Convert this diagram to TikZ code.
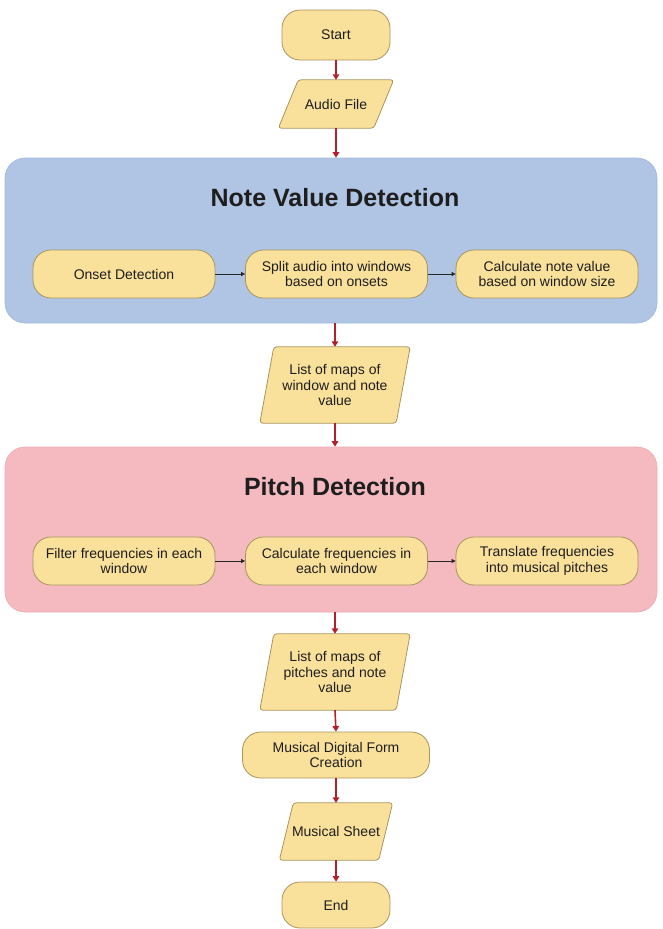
\documentclass[tikz,border=0pt]{standalone}
\usepackage{fontspec}
\setmainfont{Liberation Sans}
\usetikzlibrary{arrows.meta}
\definecolor{nodefill}{HTML}{F9E09B}
\definecolor{nodeline}{HTML}{A8955E}
\definecolor{bluebg}{HTML}{B0C4E4}
\definecolor{blueedge}{HTML}{A3B8DA}
\definecolor{pinkbg}{HTML}{F5BAC0}
\definecolor{pinkedge}{HTML}{EBAAB1}
\definecolor{flowred}{HTML}{B3202B}
\definecolor{textcol}{HTML}{1E1E1E}
\pgfdeclarelayer{shapes}
\pgfsetlayers{shapes,main}
% parallelogram outline drawn behind a named text node
\newcommand\ioslant[2]{%
  \begin{pgfonlayer}{shapes}
    \draw[ioshape] ([xshift=#2]#1.north west) -- ([xshift=#2]#1.north east)
      -- ([xshift=-#2]#1.south east) -- ([xshift=-#2]#1.south west) -- cycle;
  \end{pgfonlayer}}
\begin{document}
\begin{tikzpicture}[x=1pt,y=-1pt,
  font=\fontsize{14}{15.5}\selectfont, text=textcol,
  term/.style={draw=nodeline, fill=nodefill, line width=0.8pt,
    rounded corners=18pt, align=center, inner sep=0pt},
  iotext/.style={align=center, inner sep=0pt},
  ioshape/.style={draw=nodeline, fill=nodefill, line width=0.8pt, rounded corners=3pt},
  group/.style={rounded corners=20pt, line width=0.6pt, inner sep=0pt,
    minimum width=652pt, minimum height=165pt},
  grouptitle/.style={font=\fontsize{25}{30}\selectfont\bfseries, inner sep=0pt},
  flow/.style={draw=flowred, line width=1.6pt, -{Triangle[width=6.5pt,length=5.5pt]}},
  link/.style={draw=black!85, line width=0.8pt, -{Triangle[width=4pt,length=4pt]}}
]
\useasboundingbox (0,0) rectangle (662,929);

% group backgrounds
\node[group, fill=bluebg, draw=blueedge] (nvd) at (331,240.5) {};
\node[group, fill=pinkbg, draw=pinkedge] (pd) at (331,529.5) {};
\node[grouptitle] (nvdtitle) at (335,198) {Note Value Detection};
\node[grouptitle] (pdtitle) at (335,487) {Pitch Detection};

% main flow
\node[term, minimum width=108pt, minimum height=50pt] (start) at (336,35) {Start};
\node[iotext, minimum width=95pt, minimum height=48pt] (audio) at (336,104) {Audio File};
\ioslant{audio}{10pt}

% note value detection steps
\node[term, minimum width=182pt, minimum height=48pt] (onset) at (124,274) {Onset Detection};
\node[term, minimum width=182pt, minimum height=48pt] (split) at (336.5,274) {Split audio into windows\\based on onsets};
\node[term, minimum width=182pt, minimum height=48pt] (noteval) at (547,274) {Calculate note value\\based on window size};

\node[iotext, minimum width=136pt, minimum height=76pt] (maps1) at (335,385) {List of maps of\\window and note\\value};
\ioslant{maps1}{7pt}

% pitch detection steps
\node[term, minimum width=182pt, minimum height=48pt] (filter) at (124,561) {Filter frequencies in each\\window};
\node[term, minimum width=182pt, minimum height=48pt] (freq) at (336.5,561) {Calculate frequencies in\\each window};
\node[term, minimum width=182pt, minimum height=48pt] (translate) at (547,561) {Translate frequencies\\into musical pitches};

\node[iotext, minimum width=136pt, minimum height=76pt] (maps2) at (335,672) {List of maps of\\pitches and note\\value};
\ioslant{maps2}{7pt}

\node[term, minimum width=187pt, minimum height=46pt] (form) at (336,755) {Musical Digital Form\\Creation};
\node[iotext, minimum width=99pt, minimum height=57pt] (sheet) at (336,831.5) {Musical Sheet};
\ioslant{sheet}{7pt}
\node[term, minimum width=108pt, minimum height=46pt] (end) at (336,905) {End};

% connectors
\draw[flow] (start) -- (audio);
\draw[flow] (audio.south) -- (audio.south |- nvd.north);
\draw[link] (onset) -- (split);
\draw[link] (split) -- (noteval);
\draw[flow] (maps1.north |- nvd.south) -- (maps1.north);
\draw[flow] (maps1.south) -- (maps1.south |- pd.north);
\draw[link] (filter) -- (freq);
\draw[link] (freq) -- (translate);
\draw[flow] (maps2.north |- pd.south) -- (maps2.north);
\draw[flow] (maps2.south) -- (form.north);
\draw[flow] (form) -- (sheet);
\draw[flow] (sheet) -- (end);
\end{tikzpicture}
\end{document}
